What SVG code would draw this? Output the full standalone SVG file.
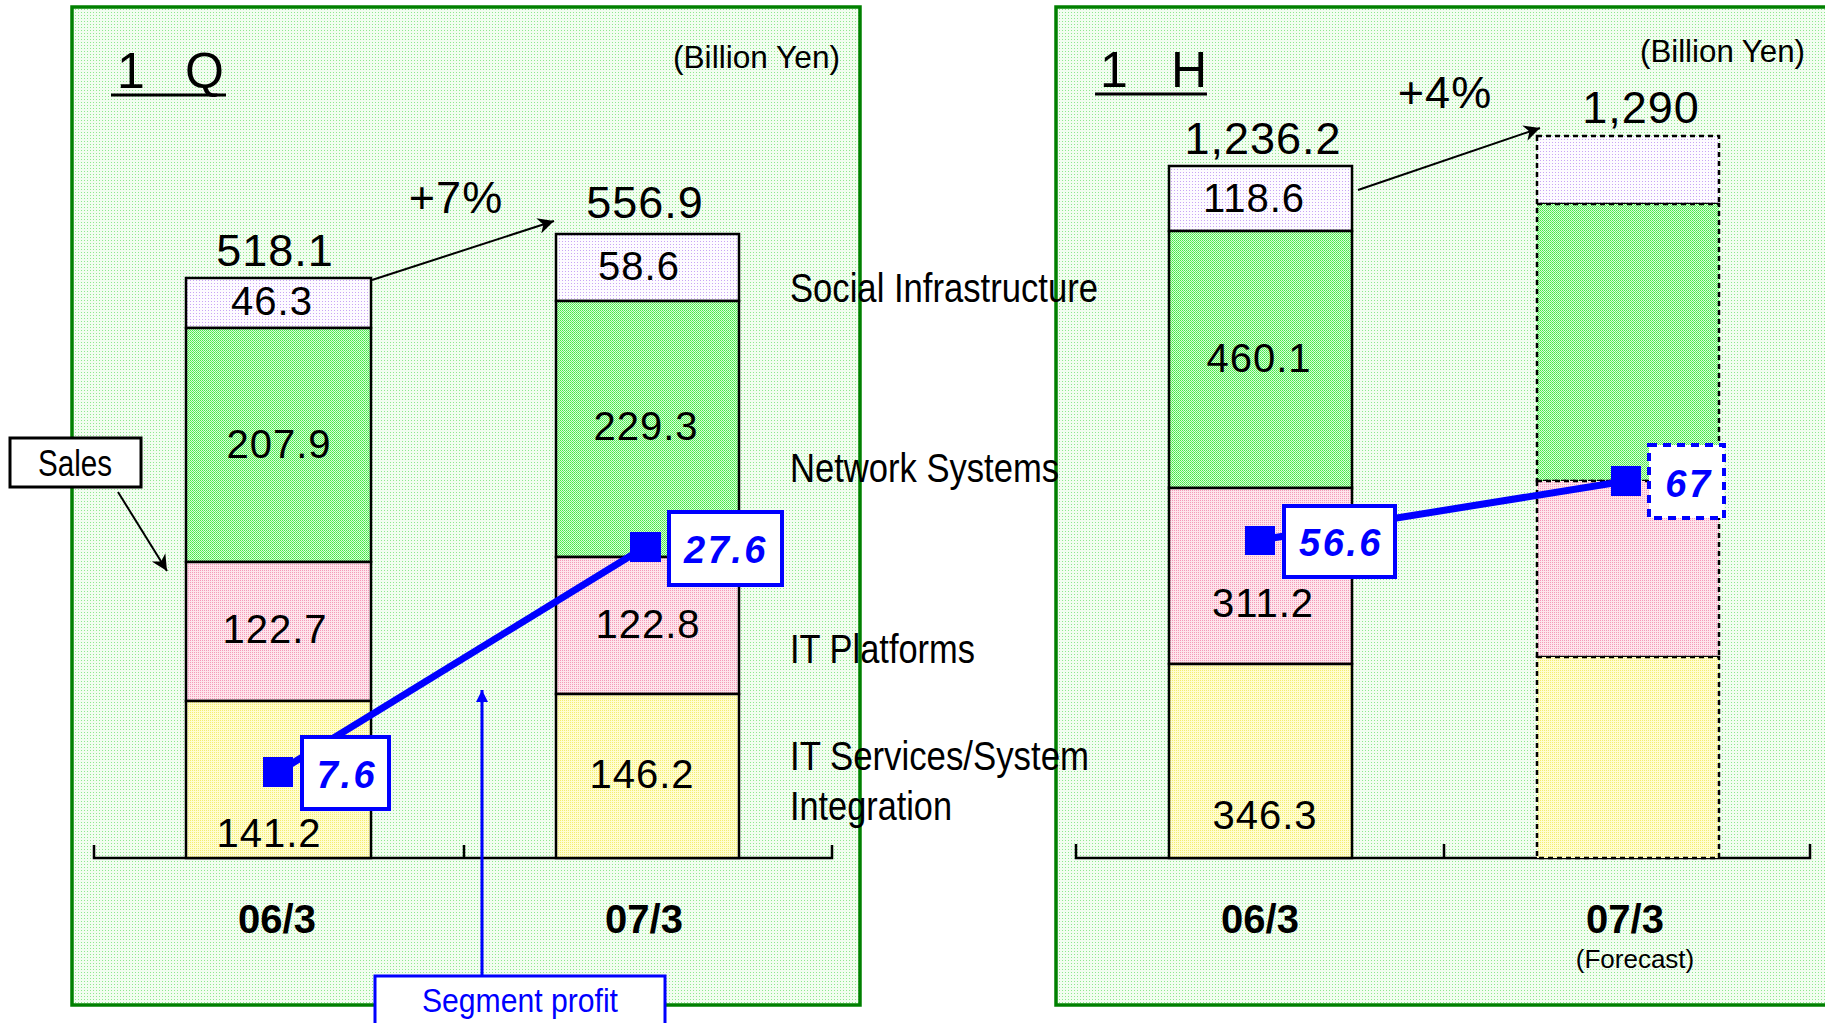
<svg xmlns="http://www.w3.org/2000/svg" width="1825" height="1023" viewBox="0 0 1825 1023">
<defs>
  <pattern id="pBg" width="3" height="3" patternUnits="userSpaceOnUse">
    <rect width="3" height="3" fill="#f2fdf0"/><rect width="1" height="1" fill="#8fe88f"/>
  </pattern>
  <pattern id="pGreen" width="2" height="2" patternUnits="userSpaceOnUse">
    <rect width="2" height="2" fill="#d8fcd8"/><rect width="1" height="1" fill="#44e844"/><rect x="1" y="1" width="1" height="1" fill="#66ee66"/>
  </pattern>
  <pattern id="pPurple" width="3" height="3" patternUnits="userSpaceOnUse">
    <rect width="3" height="3" fill="#fdfbff"/><rect x="1" y="1" width="1" height="1" fill="#c9a5f5"/>
  </pattern>
  <pattern id="pPink" width="2" height="2" patternUnits="userSpaceOnUse">
    <rect width="2" height="2" fill="#fee4ec"/><rect width="1" height="1" fill="#f49ab8"/>
  </pattern>
  <pattern id="pYellow" width="2" height="2" patternUnits="userSpaceOnUse">
    <rect width="2" height="2" fill="#fffdd0"/><rect width="1" height="1" fill="#f4ee70"/>
  </pattern>
  <marker id="arrBlack" viewBox="0 0 10 10" refX="10" refY="5" markerWidth="22" markerHeight="16" markerUnits="userSpaceOnUse" orient="auto">
    <path d="M0,0 L10,5 L0,10 L3,5 z" fill="#000"/>
  </marker>
  <marker id="arrBlue" viewBox="0 0 10 10" refX="10" refY="5" markerWidth="16" markerHeight="12" markerUnits="userSpaceOnUse" orient="auto">
    <path d="M0,0 L10,5 L0,10 z" fill="#0000ff"/>
  </marker>
</defs>
<style>
  .panel { fill: url(#pBg); stroke: #008000; stroke-width: 3.5; }
  .seg { stroke: #000; stroke-width: 2.5; }
  .dseg { stroke: #000; stroke-width: 2.5; stroke-dasharray: 5 4; }
  .purple { fill: url(#pPurple); }
  .green { fill: url(#pGreen); }
  .pink { fill: url(#pPink); }
  .yellow { fill: url(#pYellow); }
  .num { font-family: "Liberation Sans", Arial, sans-serif; font-size: 40px; letter-spacing: 1px; fill: #000; text-anchor: middle; }
  .tot { font-family: "Liberation Sans", Arial, sans-serif; font-size: 45px; letter-spacing: 1px; fill: #000; text-anchor: middle; }
  .title { font-family: "Liberation Sans", Arial, sans-serif; font-size: 50px; fill: #000; }
  .lbl { font-family: "Liberation Sans", Arial, sans-serif; font-size: 41px; fill: #000; }
  .unit { font-family: "Liberation Sans", Arial, sans-serif; font-size: 32px; fill: #000; }
  .xl { font-family: "Liberation Sans", Arial, sans-serif; font-size: 40px; font-weight: bold; fill: #000; text-anchor: middle; }
  .val { font-family: "Liberation Sans", Arial, sans-serif; font-size: 38px; font-weight: bold; font-style: italic; letter-spacing: 2.5px; fill: #0000ff; text-anchor: middle; }
  .vbox { fill: #fff; stroke: #0000ff; stroke-width: 4; }
  .mk { fill: #0000ff; }
  .axis { stroke: #000; stroke-width: 2.5; fill: none; }
  .conn { stroke: #000; stroke-width: 2; fill: none; }
  .pline { stroke: #0000ff; stroke-width: 7; fill: none; }
</style>

<rect x="0" y="0" width="1825" height="1023" fill="#fff"/>

<g id="panel-1q">
  <rect class="panel" x="72" y="7" width="788" height="998"/>
  <text class="title" x="117" y="88">1<tspan x="185">Q</tspan></text>
  <line x1="111" y1="95" x2="226" y2="95" stroke="#000" stroke-width="3"/>
  <text class="unit" x="673" y="68" textLength="167" lengthAdjust="spacingAndGlyphs">(Billion Yen)</text>
  <path class="axis" d="M94,845 V858 H832 V845 M464,845 V858"/>
  <text class="xl" x="277" y="933">06/3</text>
  <text class="xl" x="644" y="933">07/3</text>
</g>

<g id="panel-1h">
  <rect class="panel" x="1056" y="7" width="800" height="998"/>
  <text class="title" x="1100" y="87">1<tspan x="1171">H</tspan></text>
  <line x1="1095" y1="94" x2="1207" y2="94" stroke="#000" stroke-width="3"/>
  <text class="unit" x="1640" y="62" textLength="165" lengthAdjust="spacingAndGlyphs">(Billion Yen)</text>
  <path class="axis" d="M1076,844 V858 H1810 V844 M1444,844 V858"/>
  <text class="xl" x="1260" y="933">06/3</text>
  <text class="xl" x="1625" y="933">07/3</text>
  <text x="1635" y="968" font-family="Liberation Sans, Arial, sans-serif" font-size="26" text-anchor="middle" fill="#000">(Forecast)</text>
</g>

<g id="bar-1q-0603">
  <rect class="seg purple" x="186" y="278" width="185" height="50"/>
  <rect class="seg green" x="186" y="328" width="185" height="234"/>
  <rect class="seg pink" x="186" y="562" width="185" height="139"/>
  <rect class="seg yellow" x="186" y="701" width="185" height="157"/>
  <text class="num" x="272" y="315">46.3</text>
  <text class="num" x="279" y="458">207.9</text>
  <text class="num" x="275" y="643">122.7</text>
  <text class="num" x="269" y="847">141.2</text>
  <text class="tot" x="275" y="266">518.1</text>
</g>

<g id="bar-1q-0703">
  <rect class="seg purple" x="556" y="234" width="183" height="67"/>
  <rect class="seg green" x="556" y="301" width="183" height="256"/>
  <rect class="seg pink" x="556" y="557" width="183" height="137"/>
  <rect class="seg yellow" x="556" y="694" width="183" height="164"/>
  <text class="num" x="639" y="280">58.6</text>
  <text class="num" x="646" y="440">229.3</text>
  <text class="num" x="648" y="638">122.8</text>
  <text class="num" x="642" y="788">146.2</text>
  <text class="tot" x="645" y="218">556.9</text>
</g>

<g id="bar-1h-0603">
  <rect class="seg purple" x="1169" y="166" width="183" height="65"/>
  <rect class="seg green" x="1169" y="231" width="183" height="257"/>
  <rect class="seg pink" x="1169" y="488" width="183" height="176"/>
  <rect class="seg yellow" x="1169" y="664" width="183" height="194"/>
  <text class="num" x="1254" y="212">118.6</text>
  <text class="num" x="1259" y="372">460.1</text>
  <text class="num" x="1263" y="617">311.2</text>
  <text class="num" x="1265" y="829">346.3</text>
  <text class="tot" x="1263" y="154">1,236.2</text>
</g>

<g id="bar-1h-0703">
  <rect class="dseg purple" x="1537" y="136" width="182" height="68"/>
  <rect class="dseg green" x="1537" y="204" width="182" height="277"/>
  <rect class="dseg pink" x="1537" y="481" width="182" height="176"/>
  <rect class="dseg yellow" x="1537" y="657" width="182" height="201"/>
  <text class="tot" x="1641" y="123">1,290</text>
</g>

<g id="category-labels">
  <text class="lbl" x="790" y="302" textLength="308" lengthAdjust="spacingAndGlyphs">Social Infrastructure</text>
  <text class="lbl" x="790" y="482" textLength="269" lengthAdjust="spacingAndGlyphs">Network Systems</text>
  <text class="lbl" x="790" y="663" textLength="185" lengthAdjust="spacingAndGlyphs">IT Platforms</text>
  <text class="lbl" x="790" y="770" textLength="299" lengthAdjust="spacingAndGlyphs">IT Services/System</text>
  <text class="lbl" x="790" y="820" textLength="162" lengthAdjust="spacingAndGlyphs">Integration</text>
</g>

<g id="growth-labels">
  <text class="tot" x="456" y="213">+7%</text>
  <text class="tot" x="1445" y="108">+4%</text>
</g>

<g id="connectors">
  <line class="conn" x1="372" y1="280" x2="554" y2="221" marker-end="url(#arrBlack)"/>
  <line class="conn" x1="1358" y1="190" x2="1540" y2="128" marker-end="url(#arrBlack)"/>
  <line class="conn" x1="118" y1="492" x2="167" y2="571" marker-end="url(#arrBlack)"/>
  <line x1="482" y1="976" x2="482" y2="690" stroke="#0000ff" stroke-width="3" marker-end="url(#arrBlue)"/>
  <line class="pline" x1="278" y1="772" x2="645" y2="547"/>
  <line class="pline" x1="1260" y1="540" x2="1626" y2="481"/>
</g>

<g id="sales-label">
  <rect x="10" y="438" width="131" height="49" fill="#fff" stroke="#000" stroke-width="3"/>
  <text x="38" y="476" font-family="Liberation Sans, Arial, sans-serif" font-size="36" textLength="74" lengthAdjust="spacingAndGlyphs" fill="#000">Sales</text>
</g>

<g id="segment-profit-label">
  <rect x="375" y="976" width="290" height="60" fill="#fff" stroke="#0000ff" stroke-width="3"/>
  <text x="422" y="1012" font-family="Liberation Sans, Arial, sans-serif" font-size="34" textLength="196" lengthAdjust="spacingAndGlyphs" fill="#0000ff">Segment profit</text>
</g>

<g id="profit-1q-0603">
  <rect class="mk" x="263" y="757" width="30" height="30"/>
  <rect class="vbox" x="302" y="737" width="87" height="72"/>
  <text class="val" x="347" y="788">7.6</text>
</g>
<g id="profit-1q-0703">
  <rect class="mk" x="630" y="532" width="31" height="30"/>
  <rect class="vbox" x="669" y="512" width="113" height="73"/>
  <text class="val" x="726" y="563">27.6</text>
</g>
<g id="profit-1h-0603">
  <rect class="mk" x="1245" y="526" width="30" height="29"/>
  <rect class="vbox" x="1284" y="506" width="111" height="71"/>
  <text class="val" x="1341" y="556">56.6</text>
</g>
<g id="profit-1h-0703">
  <rect class="mk" x="1611" y="466" width="30" height="30"/>
  <rect class="vbox" x="1649" y="445" width="75" height="73" stroke-dasharray="8 6"/>
  <text class="val" x="1689" y="497">67</text>
</g>
</svg>
